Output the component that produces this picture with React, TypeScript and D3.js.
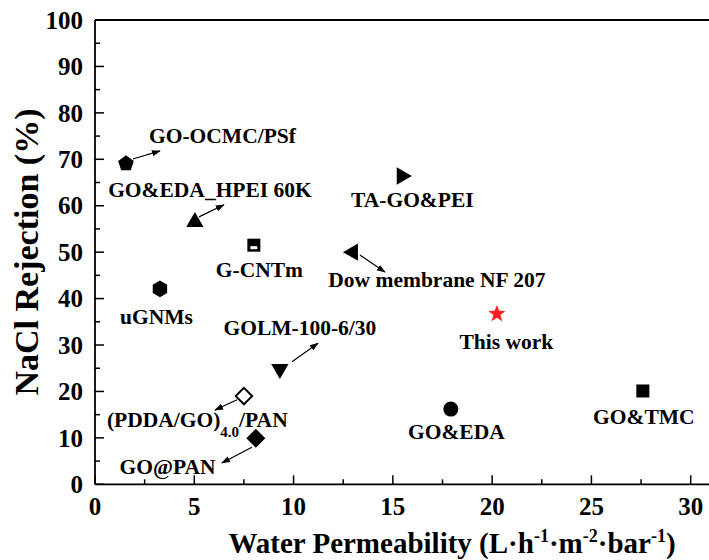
import React from "react";
import * as d3 from "d3";

// ---- data ----
const names = [
  "GO-OCMC/PSf", "GO&EDA_HPEI 60K", "G-CNTm", "uGNMs", "TA-GO&PEI",
  "Dow membrane NF 207", "GOLM-100-6/30", "(PDDA/GO)4.0/PAN", "GO@PAN",
  "This work", "GO&EDA", "GO&TMC",
];
const permeability = [1.56, 5.03, 8.0, 3.27, 15.5, 12.94, 9.31, 7.5, 8.1, 20.24, 17.92, 27.59];
const rejection = [69.2, 56.7, 51.5, 42.1, 66.4, 50.0, 24.6, 19.0, 9.9, 36.7, 16.2, 20.1];
const shapes = [
  "pentagon", "triangleUp", "squareHalf", "hexagon", "triangleRight",
  "triangleLeft", "triangleDown", "diamondOpen", "diamond", "star", "circle", "square",
];
// label anchor (data units) [x, y]
const labelX = [6.42, 5.79, 8.28, 3.1, 15.98, 17.22, 10.32, 0.6, 3.65, 20.72, 18.2, 27.64];
const labelY = [73.5, 61.9, 44.6, 34.5, 59.7, 42.5, 32.2, 12.3, 2.2, 29.1, 9.8, 13.0];
// arrows (data units) [x1, y1, x2, y2]
const arrows = [
  [1.91, 70.06, 3.27, 71.8],
  [5.24, 57.6, 6.49, 60.2],
  [13.34, 49.4, 14.6, 45.7],
  [9.92, 26.4, 11.23, 30.4],
  [7.15, 18.2, 6.04, 16.0],
  [7.9, 8.0, 6.39, 4.6],
];
const xMajorTicks = [0, 5, 10, 15, 20, 25, 30];
const xMinorTicks = [2.5, 7.5, 12.5, 17.5, 22.5, 27.5];
const yMajorTicks = [0, 10, 20, 30, 40, 50, 60, 70, 80, 90, 100];
const yMinorTicks = [5, 15, 25, 35, 45, 55, 65, 75, 85, 95];

const W = 709, H = 560;
const left = 95, top = 20, bottom = 484.3;
const x = d3.scaleLinear().domain([0, 30]).range([left, 690.7]);
const y = d3.scaleLinear().domain([0, 100]).range([bottom, top]);

const FONT = "'Liberation Serif', 'Times New Roman', serif";

function poly(n: number, r: number, rot: number) {
  const pts: [number, number][] = [];
  for (let i = 0; i < n; i++) {
    const a = rot + (i * 2 * Math.PI) / n;
    pts.push([r * Math.sin(a), -r * Math.cos(a)]);
  }
  return "M" + pts.map((p) => p.join(",")).join("L") + "Z";
}
function star(R: number, r: number) {
  const pts: [number, number][] = [];
  for (let i = 0; i < 10; i++) {
    const a = (i * Math.PI) / 5;
    const rr = i % 2 === 0 ? R : r;
    pts.push([rr * Math.sin(a), -rr * Math.cos(a)]);
  }
  return "M" + pts.map((p) => p.join(",")).join("L") + "Z";
}

function Marker({ kind, cx, cy }: { kind: string; cx: number; cy: number }) {
  const t = `translate(${cx},${cy})`;
  const tri = (rot: number) => poly(3, 10, rot);
  switch (kind) {
    case "pentagon":
      return <path transform={`translate(${cx},${cy + 0.5})`} d={poly(5, 8.2, 0)} fill="#000" />;
    case "triangleUp":
      return <path transform={`translate(${cx},${cy + 1})`} d={tri(0)} fill="#000" />;
    case "triangleDown":
      return <path transform={`translate(${cx},${cy - 1})`} d={tri(Math.PI)} fill="#000" />;
    case "triangleRight":
      return <path transform={`translate(${cx - 1},${cy})`} d={tri(Math.PI / 2)} fill="#000" />;
    case "triangleLeft":
      return <path transform={`translate(${cx + 1},${cy})`} d={tri(-Math.PI / 2)} fill="#000" />;
    case "hexagon":
      return <path transform={t} d={poly(6, 8.3, 0)} fill="#000" />;
    case "diamond":
      return <path transform={t} d={poly(4, 9.5, 0)} fill="#000" />;
    case "diamondOpen":
      return <path transform={t} d={poly(4, 8.2, 0)} fill="#fff" stroke="#000" strokeWidth={2} />;
    case "star":
      return <path transform={t} d={star(9, 3.8)} fill="#ff2020" />;
    case "circle":
      return <circle cx={cx} cy={cy} r={7.5} fill="#000" />;
    case "square":
      return <rect x={cx - 6.5} y={cy - 6.5} width={13} height={13} fill="#000" />;
    case "squareHalf":
      return (
        <g>
          <rect x={cx - 6.5} y={cy - 6.5} width={13} height={13} fill="#000" />
          <rect x={cx - 3.5} y={cy + 1} width={7} height={3} fill="#fff" />
        </g>
      );
    default:
      return null;
  }
}

export default function App() {
  const labelStyle = { fontFamily: FONT, fontWeight: 700, fontSize: 21.5 } as const;
  return (
    <svg width={W} height={H} style={{ position: "absolute", left: 0, top: 0, background: "#fff" }}>
      <defs>
        <marker id="ah" viewBox="0 0 10 10" refX="9" refY="5" markerWidth="9" markerHeight="9" markerUnits="userSpaceOnUse" orient="auto">
          <path d="M0,1.5L10,5L0,8.5Z" fill="#000" />
        </marker>
      </defs>
      <rect width={W} height={H} fill="#fff" />
      {/* frame */}
      <line x1={left} x2={W} y1={top} y2={top} stroke="#000" strokeWidth={1.8} />
      <line x1={left} x2={W} y1={bottom} y2={bottom} stroke="#000" strokeWidth={1.8} />
      <line x1={left} x2={left} y1={top} y2={bottom} stroke="#000" strokeWidth={1.8} />
      {/* y ticks */}
      {yMajorTicks.map((v) => (
        <g key={"ym" + v}>
          <line x1={left} x2={left + 9} y1={y(v)} y2={y(v)} stroke="#000" strokeWidth={1.5} />
          <text x={left - 12} y={y(v)} dy="0.35em" textAnchor="end" fontFamily={FONT} fontWeight={700} fontSize={25}>
            {v}
          </text>
        </g>
      ))}
      {yMinorTicks.map((v) => (
        <line key={"yn" + v} x1={left} x2={left + 5} y1={y(v)} y2={y(v)} stroke="#000" strokeWidth={1.5} />
      ))}
      {/* x ticks */}
      {xMajorTicks.map((v) => (
        <g key={"xm" + v}>
          <line x1={x(v)} x2={x(v)} y1={bottom} y2={bottom - 9} stroke="#000" strokeWidth={1.5} />
          <text x={x(v)} y={bottom + 31} textAnchor="middle" fontFamily={FONT} fontWeight={700} fontSize={25}>
            {v}
          </text>
        </g>
      ))}
      {xMinorTicks.map((v) => (
        <line key={"xn" + v} x1={x(v)} x2={x(v)} y1={bottom} y2={bottom - 5} stroke="#000" strokeWidth={1.5} />
      ))}
      {/* axis titles */}
      <text x={452} y={553} textAnchor="middle" fontFamily={FONT} fontWeight={700} fontSize={29}>
        Water Permeability (L·h
        <tspan dy={-11} fontSize={18}>-1</tspan>
        <tspan dy={11}>·m</tspan>
        <tspan dy={-11} fontSize={18}>-2</tspan>
        <tspan dy={11}>·bar</tspan>
        <tspan dy={-11} fontSize={18}>-1</tspan>
        <tspan dy={11}>)</tspan>
      </text>
      <text transform={`translate(38,252) rotate(-90)`} textAnchor="middle" fontFamily={FONT} fontWeight={700} fontSize={34}>
        NaCl Rejection (%)
      </text>
      {/* arrows */}
      {arrows.map((a, i) => (
        <line key={"a" + i} x1={x(a[0])} y1={y(a[1])} x2={x(a[2])} y2={y(a[3])} stroke="#000" strokeWidth={1.2} markerEnd="url(#ah)" />
      ))}
      {/* markers */}
      {names.map((n, i) => (
        <Marker key={n} kind={shapes[i]} cx={x(permeability[i])} cy={y(rejection[i])} />
      ))}
      {/* labels */}
      {names.map((n, i) =>
        n === "(PDDA/GO)4.0/PAN" ? (
          <text key={"l" + n} x={x(labelX[i])} y={y(labelY[i])} textAnchor="start" {...labelStyle}>
            (PDDA/GO)
            <tspan dy={10} fontSize={15}>4.0</tspan>
            <tspan dy={-10}>/PAN</tspan>
          </text>
        ) : (
          <text key={"l" + n} x={x(labelX[i])} y={y(labelY[i])} textAnchor="middle" {...labelStyle}>
            {n}
          </text>
        )
      )}
    </svg>
  );
}
